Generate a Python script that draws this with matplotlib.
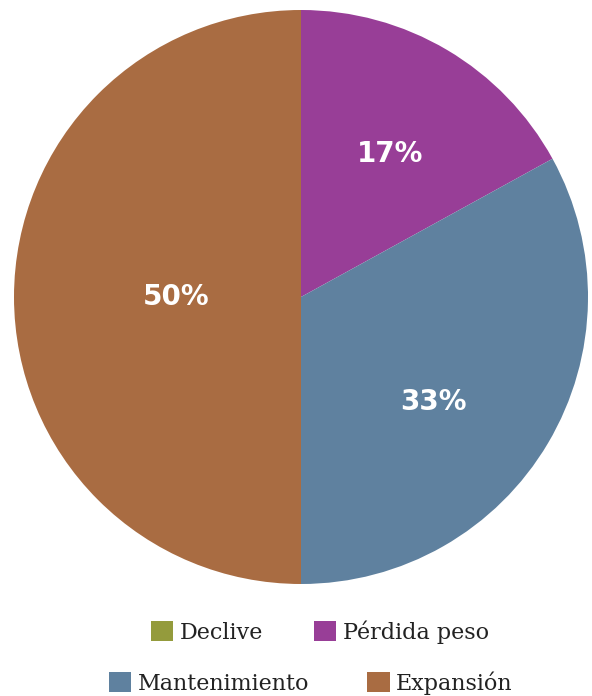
import matplotlib.pyplot as plt
from matplotlib.patches import Patch

categories = ["Declive", "Pérdida peso", "Mantenimiento", "Expansión"]
shares = [0, 17, 33, 50]
labels = ["", "17%", "33%", "50%"]
colors = ["#949b3c", "#983e97", "#5f819f", "#a96c42"]

fig = plt.figure(figsize=(5.92, 6.96), dpi=100)
ax = fig.add_axes([14 / 592, 112 / 696, 574 / 592, 574 / 696])

wedges, _ = ax.pie(shares, colors=colors, startangle=90, counterclock=False,
                   radius=1, wedgeprops=dict(linewidth=0))
ax.set_xlim(-1, 1)
ax.set_ylim(-1, 1)
ax.set_aspect("equal")

# label positions (in pie units)
label_pos = [(0, 0), (0.31, 0.50), (0.46, -0.365), (-0.435, 0.0)]
for lab, (x, y) in zip(labels, label_pos):
    if lab:
        ax.text(x, y, lab, color="white", fontsize=20, fontweight="bold",
                ha="center", va="center")

handles = [Patch(facecolor=c, edgecolor="none") for c in colors]
leg_kw = dict(frameon=False, ncol=2, handlelength=1.0,
              handleheight=1.0, handletextpad=0.3,
              prop={"family": "DejaVu Serif", "size": 16}, labelcolor="#222222",
              loc="center")
fig.legend(handles[:2], categories[:2], columnspacing=2.27,
           bbox_to_anchor=(320 / 592, 1 - 632 / 696), **leg_kw)
fig.legend(handles[2:], categories[2:], columnspacing=2.6,
           bbox_to_anchor=(311 / 592, 1 - 683 / 696), **leg_kw)

fig.savefig("out.png", dpi=100)
